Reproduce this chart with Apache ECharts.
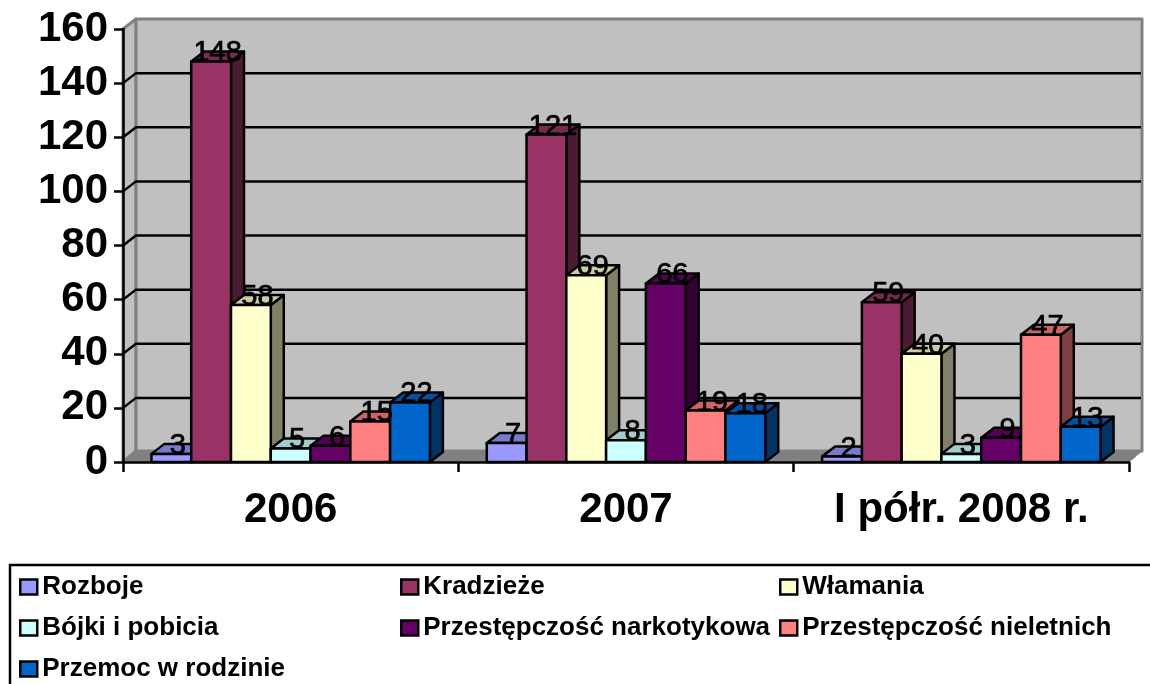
<!DOCTYPE html>
<html>
<head>
<meta charset="utf-8">
<title>Przestępczość</title>
<script src="https://cdn.jsdelivr.net/npm/echarts@6/dist/echarts.min.js"></script>
<style>
  html, body { margin: 0; padding: 0; background: #fff; overflow: hidden; }
  #chart { width: 1150px; height: 684px; }
</style>
</head>
<body>
<div id="chart"></div>
<script>
const categories = ['2006', '2007', 'I półr. 2008 r.']
const yTicks = [0, 20, 40, 60, 80, 100, 120, 140, 160]

const rozboje = [3, 7, 2]
const kradzieze = [148, 121, 59]
const wlamania = [58, 69, 40]
const bojki = [5, 8, 3]
const narkotyki = [6, 66, 9]
const nieletni = [15, 19, 47]
const przemoc = [22, 18, 13]

const seriesNames = ['Rozboje', 'Kradzieże', 'Włamania', 'Bójki i pobicia', 'Przestępczość narkotykowa', 'Przestępczość nieletnich', 'Przemoc w rodzinie']
const seriesValues = [rozboje, kradzieze, wlamania, bojki, narkotyki, nieletni, przemoc]
const seriesColors = ['#9999ff', '#993366', '#ffffcc', '#ccffff', '#660066', '#ff8080', '#0066cc']

// głębokość efektu 3D
const depthX = 13
const depthY = 10
const barRatio = 1 / 8.43

function shade(color, k) {
  const c = echarts.color.parse(color)
  return `rgb(${Math.round(c[0] * k)},${Math.round(c[1] * k)},${Math.round(c[2] * k)})`
}

function poly(points, fill, stroke, lineWidth) {
  return {
    type: 'polygon',
    shape: { points: points },
    style: { fill: fill, stroke: stroke, lineWidth: lineWidth, lineJoin: 'round' }
  }
}

function renderWall(params, api) {
  const r = params.coordSys
  const x0 = r.x, x1 = r.x + r.width, top = r.y, bottom = r.y + r.height
  const children = []
  if (params.dataIndex === 0) {
    children.push(poly([[x0, top], [x0 + depthX, top - depthY], [x0 + depthX, bottom - depthY - 1], [x0, bottom]], '#c0c0c0', '#808080', 3))
    children.push(poly([[x0 + depthX, top - depthY], [x1 + depthX, top - depthY], [x1 + depthX, bottom - depthY - 1], [x0 + depthX, bottom - depthY - 1]], '#c0c0c0', '#808080', 3))
    children.push(poly([[x0, bottom], [x0 + depthX, bottom - depthY - 1], [x1 + depthX, bottom - depthY - 1], [x1, bottom]], '#808080', '#808080', 1))
  }
  const v = api.value(1)
  if (v > 0 && v < 160) {
    const y = api.coord([0, v])[1]
    children.push({
      type: 'polyline',
      shape: { points: [[x0, y], [x0 + depthX, y - depthY], [x1 + depthX - 1, y - depthY]] },
      style: { fill: 'none', stroke: '#000', lineWidth: 2.5 }
    })
  }
  return { type: 'group', children: children }
}

function makeBarRender(index) {
  const color = seriesColors[index]
  return function (params, api) {
    const pos = api.coord([api.value(0), api.value(1)])
    const base = api.coord([api.value(0), 0])
    const w = api.size([1, 0])[0] * barRatio
    const left = pos[0] + (index - 3.5) * w
    const right = left + w
    const top = pos[1]
    const bottom = base[1]
    return {
      type: 'group',
      children: [
        poly([[right, top], [right + depthX, top - depthY], [right + depthX, bottom - depthY], [right, bottom]], shade(color, 0.5), '#000', 2.5),
        poly([[left, top], [left + depthX, top - depthY], [right + depthX, top - depthY], [right, top]], shade(color, 0.8), '#000', 2.5),
        poly([[left, top], [right, top], [right, bottom], [left, bottom]], color, '#000', 2.5),
        {
          type: 'text',
          z2: 100,
          x: (left + right) / 2 + depthX / 2,
          y: top - 8,
          style: {
            text: String(api.value(1)),
            fill: '#000',
            stroke: '#000',
            lineWidth: 0.7,
            font: '29px "Liberation Sans", Arial, sans-serif',
            align: 'center',
            verticalAlign: 'middle'
          }
        }
      ]
    }
  }
}

const series = [{
  type: 'custom',
  name: 'wall',
  z: -1,
  silent: true,
  renderItem: renderWall,
  data: yTicks.map(t => [0, t]),
  encode: { x: 0, y: 1 }
}]
seriesNames.forEach((name, i) => {
  series.push({
    type: 'custom',
    name: name,
    itemStyle: { color: seriesColors[i] },
    renderItem: makeBarRender(i),
    data: seriesValues[i].map((v, c) => [c, v]),
    encode: { x: 0, y: 1 }
  })
})

function legendColumn(left, names) {
  return {
    left: left,
    top: 574,
    height: 110,
    padding: 0,
    orient: 'vertical',
    icon: 'rect',
    itemWidth: 17,
    itemHeight: 15,
    itemGap: 15,
    selectedMode: false,
    data: names,
    itemStyle: { borderColor: '#000', borderWidth: 2.5 },
    textStyle: {
      color: '#000',
      fontFamily: '"Liberation Sans", Arial, sans-serif',
      fontWeight: 'bold',
      fontSize: 26,
      lineHeight: 25
    }
  }
}

const chart = echarts.init(document.getElementById('chart'))
chart.setOption({
  animation: false,
  backgroundColor: '#fff',
  grid: { left: 123, right: 21, top: 29, bottom: 222 },
  xAxis: {
    type: 'category',
    data: categories,
    axisLine: { lineStyle: { color: '#000', width: 2.5 } },
    axisTick: { show: true, length: 10, lineStyle: { color: '#000', width: 2.5 } },
    axisLabel: {
      color: '#000',
      fontFamily: '"Liberation Sans", Arial, sans-serif',
      fontWeight: 'bold',
      fontSize: 42,
      margin: 27
    }
  },
  yAxis: {
    type: 'value',
    min: 0,
    max: 160,
    interval: 20,
    axisLine: { show: true, lineStyle: { color: '#000', width: 2.5 } },
    axisTick: { show: true, length: 9, lineStyle: { color: '#000', width: 2.5 } },
    splitLine: { show: false },
    axisLabel: {
      color: '#000',
      fontFamily: '"Liberation Sans", Arial, sans-serif',
      fontWeight: 'bold',
      fontSize: 42,
      margin: 15,
      padding: [4, 0, 0, 0]
    }
  },
  legend: [
    legendColumn(19, [seriesNames[0], seriesNames[3], seriesNames[6]]),
    legendColumn(400, [seriesNames[1], seriesNames[4]]),
    legendColumn(779, [seriesNames[2], seriesNames[5]])
  ],
  graphic: [{
    type: 'rect',
    shape: { x: 10, y: 565, width: 1160, height: 140 },
    style: { fill: 'none', stroke: '#000', lineWidth: 2.5 }
  }],
  series: series
})
</script>
</body>
</html>
